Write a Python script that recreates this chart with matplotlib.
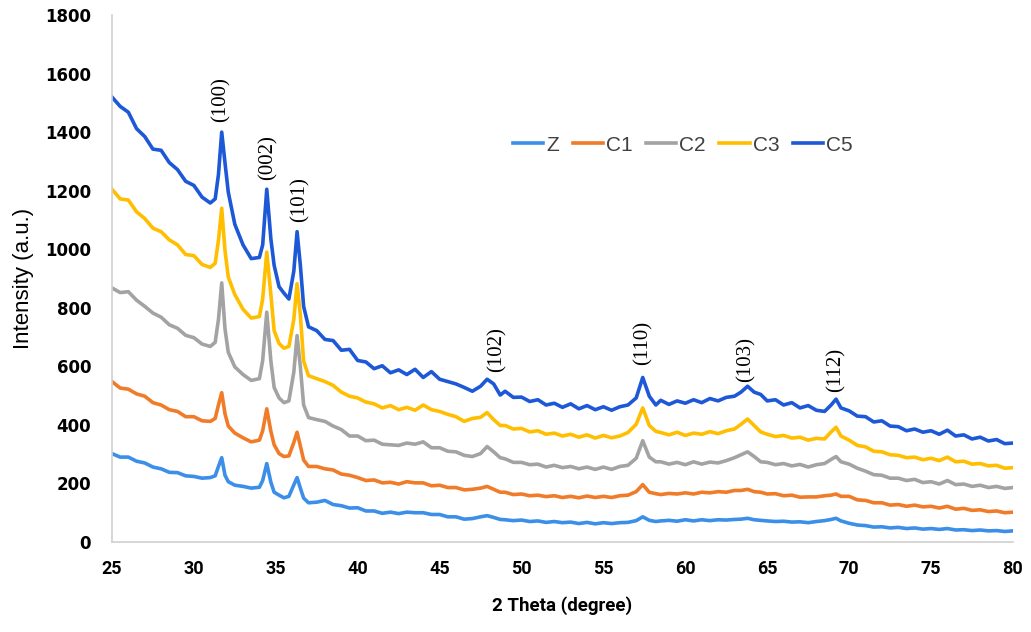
import matplotlib
matplotlib.use('Agg')
import matplotlib.pyplot as plt

# 2 theta positions (degree)
two_theta = [
    25.0, 25.5, 26.0, 26.5, 27.0, 27.5, 28.0, 28.5, 29.0, 29.5, 30.0, 30.5, 31.0,
    31.3, 31.5, 31.7, 31.9, 32.1, 32.5, 33.0, 33.5, 34.0, 34.2, 34.45, 34.7, 34.9,
    35.2, 35.5, 35.8, 36.1, 36.3, 36.5, 36.7, 37.0, 37.5,
    38.0, 38.5, 39.0, 39.5, 40.0, 40.5, 41.0, 41.5, 42.0, 42.5, 43.0, 43.5, 44.0,
    44.5, 45.0, 45.5, 46.0, 46.5, 47.0, 47.5,
    47.9, 48.3, 48.7,
    49.0, 49.5, 50.0, 50.5, 51.0, 51.5, 52.0, 52.5, 53.0, 53.5, 54.0, 54.5, 55.0,
    55.5, 56.0, 56.5, 57.0,
    57.4, 57.8, 58.2,
    58.5, 59.0, 59.5, 60.0, 60.5, 61.0, 61.5, 62.0, 62.5, 63.0,
    63.4, 63.8, 64.2, 64.6,
    65.0, 65.5, 66.0, 66.5, 67.0, 67.5, 68.0, 68.5,
    68.9, 69.2, 69.5,
    70.0, 70.5, 71.0, 71.5, 72.0, 72.5, 73.0, 73.5, 74.0, 74.5, 75.0, 75.5, 76.0,
    76.5, 77.0, 77.5, 78.0, 78.5, 79.0, 79.5, 80.0,
]

z = [
    302, 290, 290, 276, 270, 256, 250, 238, 237, 226, 224, 218, 220,
    226, 258, 288, 228, 206, 194, 190, 184, 187, 210, 268, 204, 170, 160, 151, 156, 195, 220, 184, 150, 134, 136,
    142, 128, 124, 116, 117, 106, 106, 98, 102, 97, 102, 100, 100, 94, 94, 86, 86, 78, 80, 86,
    90, 84, 77,
    76, 73, 75, 70, 72, 67, 70, 66, 68, 63, 67, 62, 66, 63, 66, 67, 73,
    86, 74, 70,
    72, 74, 71, 76, 72, 76, 73, 76, 75, 77,
    78, 81, 76, 74,
    72, 70, 71, 68, 69, 66, 70, 73,
    77, 81, 72,
    64, 58, 56, 51, 52, 48, 50, 46, 48, 44, 46, 43, 46, 41, 42, 39, 41, 38, 39, 36, 38,
]

c1 = [
    548, 526, 522, 506, 498, 476, 468, 452, 446, 428, 428, 414, 412,
    422, 468, 510, 438, 396, 372, 356, 342, 348, 380, 455, 378, 332, 302, 292, 294, 340, 375, 328, 280, 258, 258,
    250, 246, 232, 228, 220, 210, 212, 202, 204, 198, 206, 202, 202, 192, 194, 186, 186, 178, 180, 184,
    190, 180, 170,
    170, 162, 164, 158, 160, 155, 158, 152, 156, 151, 157, 152, 156, 152, 158, 160, 172,
    196, 170, 165,
    162, 166, 164, 168, 164, 170, 168, 172, 170, 176,
    176, 180, 172, 170,
    164, 165, 158, 160, 153, 154, 154, 158,
    160, 164, 156,
    156, 144, 142, 134, 134, 126, 128, 122, 126, 120, 122, 116, 122, 112, 115, 108, 110, 104, 106, 100, 102,
]

c2 = [
    868, 852, 855, 826, 805, 782, 768, 742, 730, 706, 698, 676, 668,
    682, 760, 885, 728, 648, 598, 572, 552, 558, 620, 785, 618, 528, 492, 476, 482, 580, 705, 598, 468, 425, 418,
    412, 396, 384, 362, 362, 346, 348, 334, 332, 330, 338, 334, 342, 322, 322, 310, 308, 296, 292, 302,
    326, 308, 288,
    284, 272, 272, 264, 266, 256, 262, 254, 258, 250, 256, 248, 256, 248, 258, 262, 286,
    346, 290, 274,
    274, 266, 272, 264, 274, 266, 273, 270, 278, 288,
    298, 308, 292, 274,
    272, 264, 268, 260, 265, 256, 264, 268,
    282, 292, 274,
    266, 252, 242, 230, 228, 218, 218, 210, 214, 203, 206, 198, 210, 196, 198, 190, 194, 186, 190, 183, 186,
]

c3 = [
    1205, 1172, 1168, 1128, 1105, 1072, 1060, 1032, 1015, 982, 978, 948, 938,
    952, 1030, 1140, 995, 905, 845, 795, 765, 770, 830, 990, 845, 722, 678, 662, 668, 760, 882, 775, 618, 568, 558,
    548, 535, 512, 498, 492, 478, 472, 458, 466, 452, 460, 450, 468, 452, 446, 436, 428, 412, 422, 426,
    442, 418, 398,
    398, 386, 388, 376, 380, 368, 372, 362, 368, 358, 366, 355, 364, 356, 362, 374, 402,
    458, 398, 378,
    374, 366, 375, 364, 372, 368, 377, 370, 380, 386,
    402, 420, 398, 376,
    368, 360, 364, 355, 358, 348, 354, 352,
    376, 392, 362,
    348, 330, 325, 310, 308, 298, 296, 288, 290, 281, 286, 278, 290, 274, 276, 266, 268, 260, 262, 252, 254,
]

c5 = [
    1520, 1488, 1468, 1412, 1385, 1342, 1338, 1296, 1272, 1232, 1218, 1178, 1158,
    1172, 1255, 1400, 1295, 1195, 1085, 1015, 968, 972, 1015, 1205, 1035, 945, 872, 850, 830, 925, 1060, 945, 805, 735, 722,
    692, 688, 655, 658, 620, 615, 592, 602, 578, 588, 572, 590, 562, 582, 556, 548, 540, 528, 515, 532,
    556, 540, 502,
    515, 494, 495, 480, 486, 468, 474, 460, 472, 455, 466, 452, 462, 450, 462, 468, 492,
    562, 498, 468,
    484, 470, 482, 474, 486, 476, 490, 482, 494, 498,
    512, 532, 512, 504,
    482, 486, 468, 476, 458, 466, 450, 446,
    468, 488, 458,
    448, 430, 428, 410, 414, 396, 394, 380, 386, 375, 380, 368, 382, 362, 366, 352, 358, 345, 350, 336, 338,
]

series_names = ['Z', 'C1', 'C2', 'C3', 'C5']
series_colors = ['#3B8FE8', '#F07B28', '#A3A3A3', '#FFBE00', '#1D58D6']

# peak labels: (hkl, 2theta, intensity at label bottom)
peak_labels = ['(100)', '(002)', '(101)', '(102)', '(110)', '(103)', '(112)']
peak_x = [31.65, 34.5, 36.45, 48.5, 57.4, 63.7, 69.2]
peak_y = [1435, 1236, 1093, 581, 605, 547, 512]

fig = plt.figure(figsize=(10.31, 6.32), dpi=100)
ax = fig.add_axes([0.1086, 0.1424, 0.8739, 0.8338])

for name, ys, col in zip(series_names, [z, c1, c2, c3, c5], series_colors):
    ax.plot(two_theta, ys, color=col, linewidth=2.6, label=name)

for lab, px, py in zip(peak_labels, peak_x, peak_y):
    ax.text(px, py, lab, rotation=90, ha='center', va='bottom',
            family='Liberation Serif', fontsize=15, color='black')

ax.set_xlim(25, 80)
ax.set_ylim(0, 1800)
ax.set_xticks([25, 30, 35, 40, 45, 50, 55, 60, 65, 70, 75, 80])
ax.set_yticks([0, 200, 400, 600, 800, 1000, 1200, 1400, 1600, 1800])

for s in ['top', 'right']:
    ax.spines[s].set_visible(False)
for s in ['left', 'bottom']:
    ax.spines[s].set_color('#D0D0D0')
    ax.spines[s].set_linewidth(1.2)

ax.tick_params(axis='both', length=0)
ax.tick_params(axis='y', pad=15)
ax.tick_params(axis='x', pad=13)
for t in ax.get_yticklabels():
    t.set_fontfamily('DejaVu Sans')
    t.set_fontweight('bold')
    t.set_fontsize(12)
for t in ax.get_xticklabels():
    t.set_fontfamily('Roboto')
    t.set_fontweight('bold')
    t.set_fontsize(13)

ax.set_xlabel('2 Theta (degree)', family='Roboto', fontweight='bold', fontsize=13.5, labelpad=13)
ax.set_ylabel('Intensity (a.u.)', family='Liberation Sans', fontsize=16, labelpad=8)

leg = ax.legend(loc='center left', bbox_to_anchor=(0.445, 0.753), ncol=5, frameon=False,
                prop={'family': 'Liberation Sans', 'size': 15},
                handlelength=1.45, handletextpad=0.15, columnspacing=0.65,
                borderpad=0, borderaxespad=0)
for t in leg.get_texts():
    t.set_color('#404040')

plt.savefig('out.png', dpi=100)
plt.close()
